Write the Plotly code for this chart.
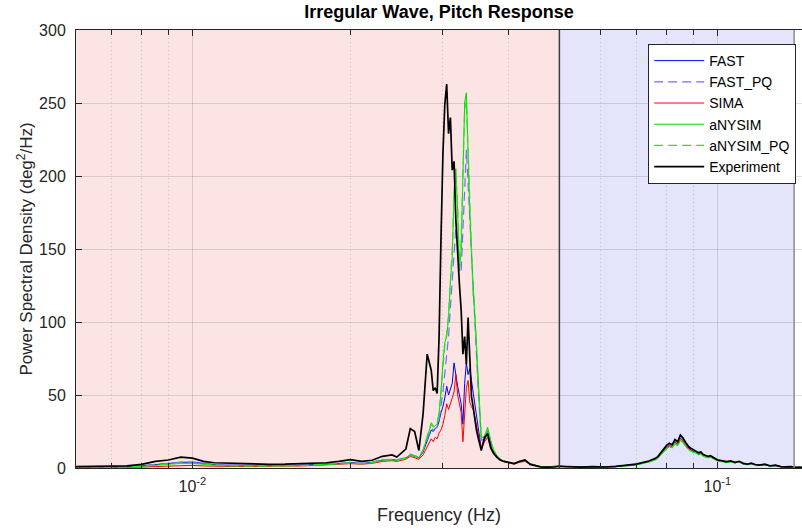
import plotly.graph_objects as go

# ---------------- data ----------------
freq_hz = [
    # low-frequency part
    0.0060, 0.0065, 0.0070, 0.0075, 0.0080, 0.0085, 0.0090, 0.0095, 0.0100, 0.0105,
    0.0110, 0.0115, 0.0120, 0.0130, 0.0140, 0.0150, 0.0160, 0.0170, 0.0180, 0.0190,
    0.0200, 0.0210, 0.0220,
    # rise
    0.0230, 0.0240, 0.0245, 0.0250, 0.0255, 0.0260, 0.0265, 0.0270, 0.0275, 0.0280,
    # pitch peak
    0.02850, 0.02875, 0.02900, 0.02925, 0.02950, 0.02975, 0.03000, 0.03025, 0.03050,
    0.03075, 0.03100, 0.03125, 0.03150, 0.03175, 0.03200, 0.03225, 0.03250, 0.03275,
    0.03300, 0.03325, 0.03350, 0.03375, 0.03400, 0.03425, 0.03450, 0.03475, 0.03500,
    # decay
    0.0355, 0.0360, 0.0365, 0.0370, 0.0375, 0.0380, 0.0385, 0.0390, 0.0400, 0.0410,
    0.0420, 0.0430, 0.0440, 0.0450, 0.0460, 0.0470, 0.0480, 0.0490, 0.0500,
    # wave-frequency band
    0.052, 0.055, 0.058, 0.061, 0.064, 0.066, 0.068, 0.070,
    0.071, 0.072, 0.073, 0.074, 0.075, 0.076, 0.077, 0.078, 0.079, 0.080,
    0.081, 0.082, 0.083, 0.084, 0.085, 0.086, 0.087, 0.088, 0.089, 0.090,
    0.091, 0.092, 0.093, 0.094, 0.095, 0.096, 0.097, 0.098, 0.099, 0.100,
    0.102, 0.104, 0.106, 0.108, 0.110, 0.112, 0.114, 0.116, 0.118, 0.120,
    0.123, 0.126, 0.129, 0.132, 0.135, 0.138, 0.141, 0.145,
]

fast = [
    0.4, 0.4, 0.5, 0.8, 1.5, 2.5, 3.3, 3.9, 4.0, 3.1, 2.3, 2.0, 1.9, 1.8, 1.6, 1.8, 2.0, 2.3, 2.6, 3.1, 3.7, 3.1, 3.8,
    5.5, 5.8, 5.3, 6.2, 6.8, 9.0, 8.0, 7.0, 11.0, 19.0,
    26, 25, 27, 28, 32, 38, 42, 48, 56, 50, 55, 58, 72, 62, 56, 50, 44, 30, 58, 72, 64, 68, 60, 55, 45, 36, 28,
    13, 19, 24, 15, 10, 7.5, 5.8, 4.6, 3.6, 2.8, 4.2, 4.8, 2.8, 1.8, 0.9, 0.6, 0.7, 1.0, 1.3,
    0.7, 0.5, 0.8, 0.6, 1.0, 1.4, 1.8, 2.4,
    2.9, 3.3, 4.0, 4.4, 5.1, 5.9, 7.1, 9.6, 12.0, 14.2,
    15.6, 14.8, 18.0, 16.6, 20.5, 18.8, 16.0, 13.8, 12.4, 11.5,
    11.1, 9.7, 10.2, 8.5, 8.0, 7.4, 7.8, 6.7, 6.0, 5.2,
    4.6, 4.1, 4.5, 3.6, 4.3, 3.0, 2.4, 3.1, 2.2, 1.9,
    2.4, 1.4, 1.8, 0.9, 0.7, 0.9, 0.5, 0.4,
]

fast_pq = [
    0.4, 0.4, 0.5, 0.8, 1.6, 2.6, 3.4, 4.0, 4.1, 3.2, 2.4, 2.0, 1.9, 1.8, 1.7, 1.8, 2.0, 2.4, 2.6, 3.2, 3.8, 3.2, 3.9,
    5.8, 6.0, 5.5, 6.5, 7.0, 9.5, 8.5, 7.5, 12.0, 20.0,
    27, 26, 27, 28, 33, 42, 52, 65, 76, 90, 110, 130, 150, 165, 155, 140, 135, 165, 195, 218, 195, 170, 142, 118, 100, 78, 55,
    19, 20, 26, 17, 11, 8.0, 6.0, 4.6, 3.6, 2.8, 4.2, 4.8, 2.8, 1.8, 0.9, 0.6, 0.7, 1.0, 1.3,
    0.7, 0.5, 0.8, 0.6, 1.0, 1.4, 1.9, 2.4,
    3.0, 3.4, 4.1, 4.5, 5.2, 6.0, 7.2, 9.8, 12.2, 14.4,
    15.8, 15.0, 18.3, 16.8, 20.8, 19.0, 16.2, 14.0, 12.6, 11.6,
    11.2, 9.8, 10.3, 8.6, 8.1, 7.5, 7.9, 6.8, 6.1, 5.3,
    4.7, 4.1, 4.5, 3.7, 4.3, 3.0, 2.4, 3.1, 2.2, 1.9,
    2.4, 1.4, 1.8, 0.9, 0.7, 0.9, 0.5, 0.4,
]

sima = [
    0.2, 0.2, 0.2, 0.3, 0.6, 1.0, 1.4, 1.7, 1.8, 1.4, 1.1, 1.0, 1.0, 1.1, 1.1, 1.2, 1.4, 1.7, 2.0, 2.5, 3.0, 2.6, 3.2,
    4.5, 5.0, 4.5, 5.5, 6.0, 8.0, 7.0, 6.0, 9.0, 15.0,
    20, 18, 21, 20, 24, 26, 30, 36, 44, 40, 45, 48, 52, 64, 50, 44, 38, 18, 38, 55, 60, 45, 42, 40, 35, 28, 24,
    13, 18, 21, 13, 9, 7, 5.5, 4.4, 3.4, 2.6, 4.0, 4.5, 2.5, 1.6, 0.8, 0.5, 0.6, 0.9, 1.2,
    0.7, 0.5, 0.8, 0.6, 1.0, 1.3, 1.8, 2.3,
    2.9, 3.2, 4.0, 4.3, 5.0, 5.8, 7.0, 9.4, 11.8, 14.0,
    15.3, 14.5, 17.6, 16.2, 20.2, 18.5, 15.8, 13.5, 12.2, 11.3,
    10.9, 9.5, 10.0, 8.3, 7.8, 7.2, 7.6, 6.5, 5.9, 5.1,
    4.5, 4.0, 4.4, 3.5, 4.2, 2.9, 2.3, 3.0, 2.2, 1.8,
    2.3, 1.3, 1.7, 0.9, 0.7, 0.9, 0.4, 0.4,
]

anysim = [
    0.3, 0.3, 0.4, 0.6, 1.2, 2.0, 2.6, 3.2, 3.2, 2.6, 1.8, 1.5, 1.5, 1.4, 1.3, 1.4, 1.6, 2.0, 2.2, 2.8, 3.4, 2.8, 3.5,
    5.5, 5.5, 5.0, 6.0, 6.5, 9.0, 8.0, 7.0, 12.0, 21.0,
    30, 28, 29, 30, 38, 52, 72, 86, 90, 103, 128, 144, 190, 205, 176, 135, 150, 200, 250, 257, 210, 176, 147, 120, 105, 85, 60,
    21, 21, 28, 19, 12, 8.7, 6.4, 5.0, 3.8, 3.0, 4.5, 5.0, 3.0, 2.0, 1.0, 0.7, 0.8, 1.2, 1.5,
    0.6, 0.5, 0.7, 0.6, 0.9, 1.2, 1.6, 2.1,
    2.6, 3.0, 3.7, 4.0, 4.7, 5.4, 6.6, 8.8, 11.0, 13.0,
    14.5, 13.8, 16.5, 15.2, 18.8, 17.2, 14.8, 12.6, 11.5, 10.6,
    10.4, 9.0, 9.5, 8.0, 7.5, 7.0, 7.4, 6.3, 5.7, 5.0,
    4.4, 3.9, 4.3, 3.5, 4.1, 2.8, 2.3, 2.9, 2.1, 1.8,
    2.3, 1.3, 1.7, 0.9, 0.7, 0.9, 0.4, 0.4,
]

anysim_pq = [
    0.3, 0.3, 0.4, 0.7, 1.3, 2.1, 2.7, 3.3, 3.1, 2.5, 1.9, 1.6, 1.5, 1.4, 1.4, 1.5, 1.7, 2.1, 2.3, 2.9, 3.5, 2.9, 3.6,
    5.6, 5.7, 5.1, 6.2, 6.8, 9.4, 8.3, 7.2, 12.5, 22.0,
    31, 29, 30, 31, 37, 50, 68, 84, 92, 105, 125, 150, 185, 200, 180, 140, 155, 205, 245, 252, 215, 180, 150, 118, 108, 82, 58,
    20, 22, 27, 18, 12, 8.5, 6.2, 4.9, 3.7, 2.9, 4.4, 4.9, 2.9, 1.9, 1.0, 0.7, 0.8, 1.1, 1.4,
    0.6, 0.5, 0.7, 0.6, 0.9, 1.2, 1.7, 2.2,
    2.7, 3.1, 3.8, 4.1, 4.8, 5.5, 6.8, 9.0, 11.3, 13.4,
    14.9, 14.1, 16.9, 15.6, 19.2, 17.6, 15.1, 12.9, 11.7, 10.8,
    10.6, 9.2, 9.7, 8.1, 7.6, 7.1, 7.5, 6.4, 5.8, 5.0,
    4.5, 3.9, 4.3, 3.5, 4.1, 2.8, 2.3, 2.9, 2.1, 1.8,
    2.3, 1.3, 1.7, 0.9, 0.7, 0.9, 0.4, 0.4,
]

experiment = [
    1.0, 1.0, 1.2, 1.5, 2.5, 4.5, 5.5, 7.5, 6.8, 4.5, 3.6, 3.4, 3.3, 2.6, 2.5, 2.6, 2.8, 3.4, 3.6, 4.5, 5.7, 4.6, 5.3,
    8.0, 9.0, 7.5, 10.0, 13.0, 27.0, 25.0, 12.0, 37.0, 78.0,
    67, 53, 55, 51, 90, 158, 215, 249, 263, 229, 240, 204, 210, 170, 144, 126, 108, 78, 90, 71, 103, 74, 49, 42, 33, 26, 21,
    12, 21, 23.5, 14, 10, 7.5, 5.7, 4.8, 4.0, 3.0, 4.5, 5.5, 2.5, 1.5, 0.8, 0.6, 0.5, 0.8, 1.2,
    0.8, 0.6, 0.9, 0.7, 1.1, 1.5, 2.0, 2.6,
    3.2, 3.6, 4.4, 4.8, 5.6, 6.4, 7.8, 10.5, 13.0, 15.5,
    17.0, 16.0, 19.5, 18.0, 22.5, 20.5, 17.5, 15.0, 13.5, 12.5,
    12.0, 10.5, 11.0, 9.2, 8.6, 8.0, 8.4, 7.2, 6.5, 5.6,
    5.0, 4.4, 4.8, 3.9, 4.6, 3.2, 2.6, 3.3, 2.4, 2.0,
    2.6, 1.5, 1.9, 1.0, 0.8, 1.0, 0.5, 0.5,
]

series_names = ["FAST", "FAST_PQ", "SIMA", "aNYSIM", "aNYSIM_PQ", "Experiment"]
series_values = [fast, fast_pq, sima, anysim, anysim_pq, experiment]

low_band = [0.006, 0.05]     # Hz, shaded pink
wave_band = [0.05, 0.14]     # Hz, shaded blue
y_limits = [0, 300]
y_tick_vals = [0, 50, 100, 150, 200, 250, 300]
x_tick_vals = [0.01, 0.1]
x_tick_text = ["10<sup>-2</sup>", "10<sup>-1</sup>"]
x_minor_vals = [0.007, 0.008, 0.009, 0.02, 0.03, 0.04, 0.05, 0.06, 0.07, 0.08, 0.09]

for n, v in zip(series_names, series_values):
    if len(v) != len(freq_hz):
        raise ValueError(f"{n}: {len(v)} values vs {len(freq_hz)} freqs")

# ---------------- styles ----------------
styles = {
    "FAST": dict(color="#0000ff", width=1, dash="solid"),
    "FAST_PQ": dict(color="#6f6fff", width=1.2, dash="9px,5px"),
    "SIMA": dict(color="#ff0000", width=1, dash="solid"),
    "aNYSIM": dict(color="#00d800", width=1, dash="solid"),
    "aNYSIM_PQ": dict(color="#1ee81e", width=1.2, dash="9px,5px"),
    "Experiment": dict(color="#000000", width=1.7, dash="solid"),
}

FONT = "Liberation Sans, Arial, sans-serif"
TXT = "#262626"

fig = go.Figure()
for n, v in zip(series_names, series_values):
    fig.add_trace(go.Scatter(x=freq_hz, y=v, mode="lines", name=n, line=styles[n]))

# shaded bands
fig.add_shape(type="rect", xref="x", yref="y", x0=low_band[0], x1=low_band[1],
              y0=y_limits[0], y1=y_limits[1], fillcolor="#fde4e4", line_width=0, layer="below")
fig.add_shape(type="rect", xref="x", yref="y", x0=wave_band[0], x1=wave_band[1],
              y0=y_limits[0], y1=y_limits[1], fillcolor="#e4e4fb", line_width=0, layer="below")
fig.add_shape(type="line", xref="x", yref="y", x0=wave_band[0], x1=wave_band[0],
              y0=y_limits[0], y1=y_limits[1], line=dict(color="#3c3c3c", width=1.5), layer="above")
fig.add_shape(type="line", xref="x", yref="y", x0=wave_band[1], x1=wave_band[1],
              y0=y_limits[0], y1=y_limits[1], line=dict(color="#8c8c8c", width=1.5), layer="above")

fig.update_layout(
    width=802, height=531,
    margin=dict(l=76, r=0, t=30, b=63),
    paper_bgcolor="white", plot_bgcolor="white",
    font=dict(family=FONT, color=TXT, size=16),
    title=dict(text="<b>Irregular Wave, Pitch Response</b>", x=0.5, xref="paper",
               y=1 - 12 / 531, yref="container", yanchor="middle",
               font=dict(size=18, color="#000000", family=FONT)),
    showlegend=True,
    legend=dict(x=0.992, xanchor="right", y=0.968, yanchor="top",
                bgcolor="white", bordercolor=TXT, borderwidth=1,
                font=dict(size=14, color="#000000", family=FONT),
                itemwidth=50, tracegroupgap=0),
)

fig.update_xaxes(
    type="log", range=[-2.2218, -0.8389],
    tickvals=x_tick_vals, ticktext=x_tick_text,
    ticks="inside", ticklen=6, tickcolor=TXT, tickwidth=1,
    showline=True, linecolor=TXT, linewidth=1, mirror="allticks",
    showgrid=True, gridcolor="rgba(38,38,38,0.15)", gridwidth=1,
    tickfont=dict(size=16, color=TXT), ticklabelstandoff=4,
    minor=dict(tickvals=x_minor_vals, ticks="inside", ticklen=5, tickcolor=TXT,
               showgrid=True, gridcolor="rgba(38,38,38,0.2)", griddash="1px,3px", gridwidth=1),
    title=dict(text="Frequency (Hz)", font=dict(size=18, color=TXT), standoff=14),
    zeroline=False,
)
fig.update_yaxes(
    range=y_limits, tickvals=y_tick_vals,
    ticks="inside", ticklen=6, tickcolor=TXT, tickwidth=1,
    showline=True, linecolor=TXT, linewidth=1, mirror=False,
    showgrid=True, gridcolor="rgba(38,38,38,0.15)", gridwidth=1,
    tickfont=dict(size=16, color=TXT), ticklabelstandoff=6,
    title=dict(text="Power Spectral Density (deg<sup>2</sup>/Hz)", font=dict(size=17, color=TXT), standoff=2),
    zeroline=False,
)

fig.write_html("out.html")
